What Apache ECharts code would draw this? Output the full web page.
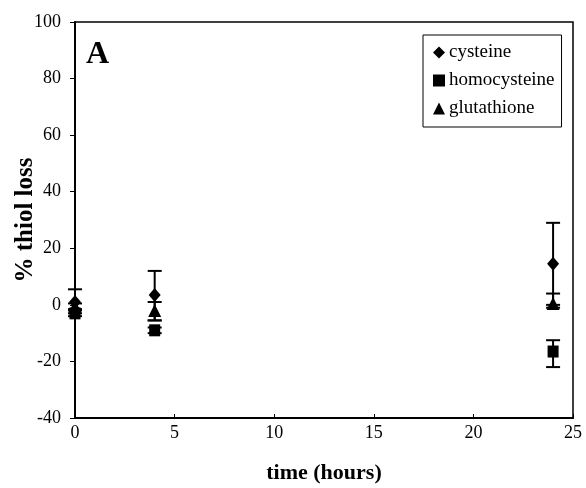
<!DOCTYPE html>
<html>
<head>
<meta charset="utf-8">
<script src="https://cdn.jsdelivr.net/npm/echarts@6/dist/echarts.min.js"></script>
<style>html,body{margin:0;padding:0;background:#fff}#c{width:586px;height:488px}</style>
</head>
<body>
<div id="c"></div>
<script>
var seriesNames = ['cysteine', 'homocysteine', 'glutathione'];
var times = [0, 4, 24];
var cysteine = [1, 3.5, 14.5];
var cysteineHigh = [5.5, 12, 29];
var cysteineLow = [-3, -5.5, 0];
var homocysteine = [-3, -9, -16.5];
var homocysteineHigh = [-2, -8, -12.5];
var homocysteineLow = [-4, -10, -22];
var glutathione = [-0.5, -2, 0.5];
var glutathioneHigh = [0.5, 1, 4];
var glutathioneLow = [-1.5, -5.5, -1];
var xTicks = [0, 5, 10, 15, 20, 25];
var yTicks = [-40, -20, 0, 20, 40, 60, 80, 100];

var FONT = '"Liberation Serif", "Times New Roman", serif';
var symbols = ['diamond', 'rect', 'triangle'];
var symbolSizes = [[12, 14], [11, 12], [13, 13]];
var vals = [cysteine, homocysteine, glutathione];
var highs = [cysteineHigh, homocysteineHigh, glutathioneHigh];
var lows = [cysteineLow, homocysteineLow, glutathioneLow];

var series = [];
for (var s = 0; s < 3; s++) {
  var errData = times.map(function (t, i) { return [t, lows[s][i], highs[s][i]]; });
  series.push({
    type: 'custom',
    name: seriesNames[s] + ' err',
    data: errData,
    z: 2,
    silent: true,
    renderItem: function (params, api) {
      var x = api.value(0);
      var lo = api.coord([x, api.value(1)]);
      var hi = api.coord([x, api.value(2)]);
      var hw = 7;
      var st = { stroke: '#000', lineWidth: 2 };
      return {
        type: 'group',
        children: [
          { type: 'line', shape: { x1: lo[0], y1: lo[1], x2: hi[0], y2: hi[1] }, style: st },
          { type: 'line', shape: { x1: hi[0] - hw, y1: hi[1], x2: hi[0] + hw, y2: hi[1] }, style: st },
          { type: 'line', shape: { x1: lo[0] - hw, y1: lo[1], x2: lo[0] + hw, y2: lo[1] }, style: st }
        ]
      };
    }
  });
}
for (var s2 = 0; s2 < 3; s2++) {
  series.push({
    type: 'scatter',
    name: seriesNames[s2],
    symbol: symbols[s2],
    symbolSize: symbolSizes[s2],
    itemStyle: { color: '#000', opacity: 1 },
    z: 3,
    data: times.map(function (t, i) { return [t, vals[s2][i]]; })
  });
}

var chart = echarts.init(document.getElementById('c'), null, { renderer: 'canvas' });
chart.setOption({
  animation: false,
  backgroundColor: '#fff',
  grid: { left: 75, right: 13, top: 22, bottom: 70, containLabel: false, outerBoundsMode: 'none',
          show: true, borderColor: '#000', borderWidth: 1.5, backgroundColor: 'transparent' },
  xAxis: {
    type: 'value', min: xTicks[0], max: xTicks[xTicks.length - 1], interval: 5,
    name: 'time (hours)', nameLocation: 'middle', nameGap: 44, nameMoveOverlap: false,
    nameTextStyle: { fontFamily: FONT, fontWeight: 'bold', fontSize: 22, color: '#000' },
    axisLine: { show: true, onZero: false, lineStyle: { color: '#000', width: 2 } },
    axisTick: { show: true, inside: true, length: 4, lineStyle: { color: '#000' } },
    axisLabel: { fontFamily: FONT, fontSize: 18, color: '#000', margin: 6 },
    splitLine: { show: false }
  },
  yAxis: {
    type: 'value', min: yTicks[0], max: yTicks[yTicks.length - 1], interval: 20,
    name: '% thiol loss', nameLocation: 'middle', nameGap: 37, nameMoveOverlap: false,
    nameTextStyle: { fontFamily: FONT, fontWeight: 'bold', fontSize: 25, color: '#000' },
    axisLine: { show: true, onZero: false, lineStyle: { color: '#000', width: 2 } },
    axisTick: { show: true, inside: false, length: 5, lineStyle: { color: '#000' } },
    axisLabel: { fontFamily: FONT, fontSize: 18, color: '#000', margin: 14 },
    splitLine: { show: false }
  },
  legend: {
    data: seriesNames.map(function (n, i) { return { name: n, icon: symbols[i], itemStyle: { color: '#000', opacity: 1 } }; }),
    orient: 'vertical', left: 423, top: 35,
    itemWidth: 12, itemHeight: 12, itemGap: 9,
    padding: [8, 7, 9, 10],
    borderColor: '#000', borderWidth: 1, backgroundColor: '#fff',
    textStyle: { fontFamily: FONT, fontSize: 19, color: '#000', padding: [0, 0, 0, -1] },
    selectedMode: false
  },
  graphic: [{
    type: 'text', left: 86, top: 39,
    style: { text: 'A', font: 'bold 32px ' + FONT, fill: '#000' }
  }],
  series: series
});
</script>
</body>
</html>
